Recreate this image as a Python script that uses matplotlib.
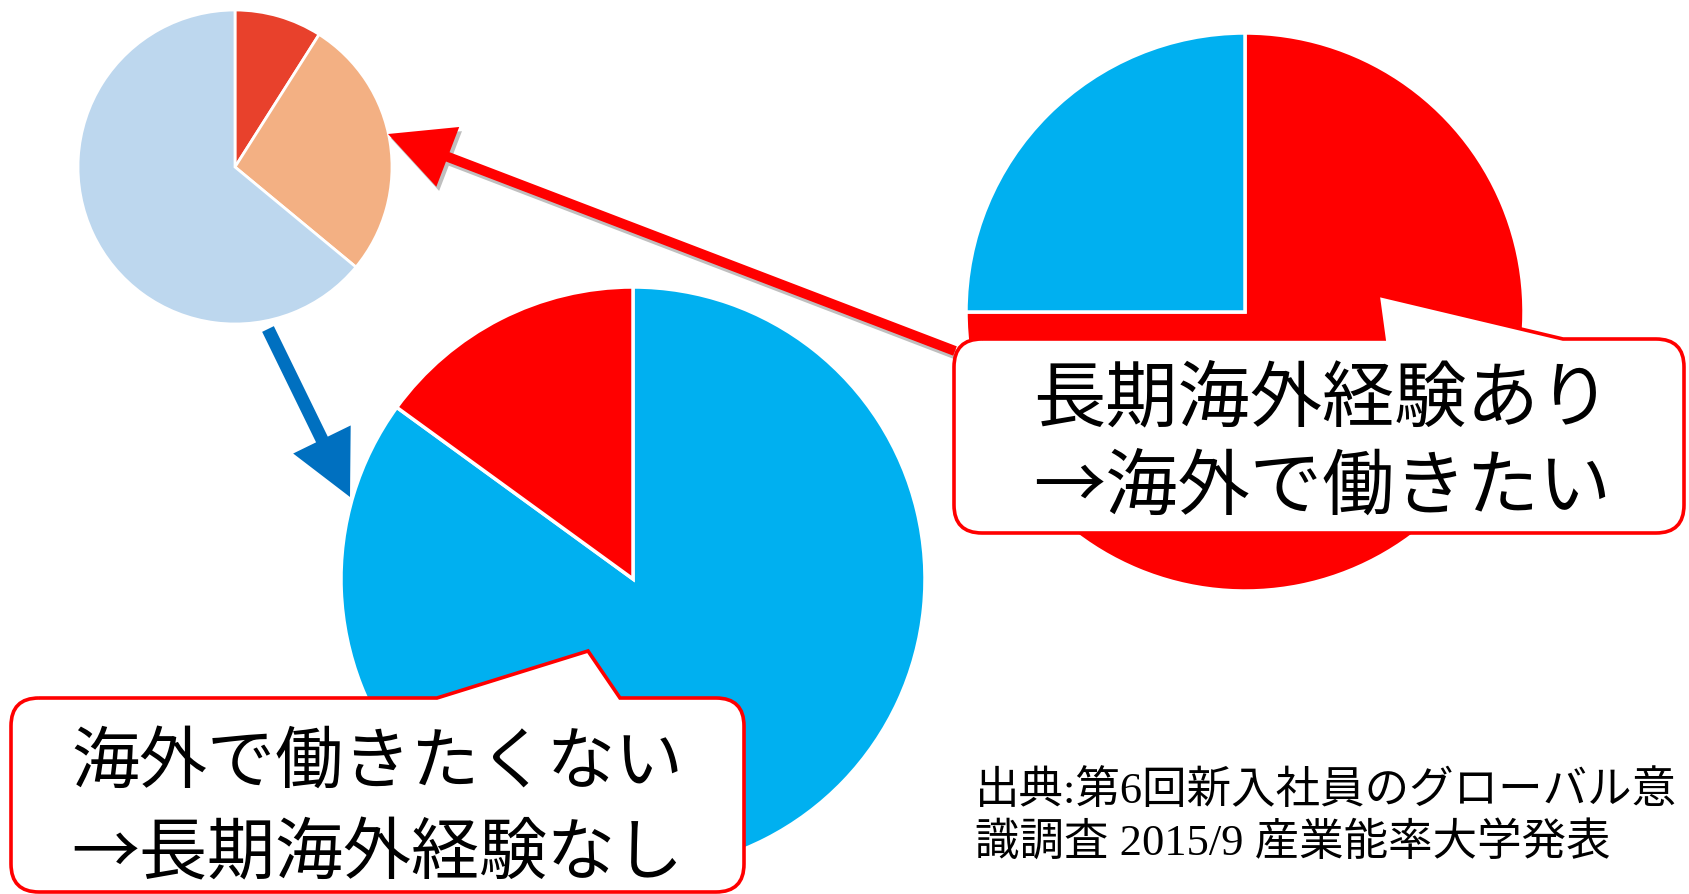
import matplotlib
matplotlib.use('Agg')
import matplotlib.pyplot as plt
from matplotlib.path import Path
from matplotlib.patches import PathPatch, FancyArrow
import matplotlib.patheffects as pe

W, H = 1690, 895

# ---- data ----
# overall (small pie, clockwise from top)
overall_values = [9, 27, 64]
overall_colors = ['#E8412C', '#F3B083', '#BDD7EE']
# 長期海外経験あり (right pie): 海外で働きたい / 働きたくない
exp_values = [75, 25]
exp_colors = ['#FF0000', '#00B0F0']
# 海外で働きたくない (middle pie): 経験なし / 経験あり
noexp_values = [85, 15]
noexp_colors = ['#00B0F0', '#FF0000']

box1_lines = ['長期海外経験あり', '→海外で働きたい']
box2_lines = ['海外で働きたくない', '→長期海外経験なし']
source_lines = ['出典:第6回新入社員のグローバル意', '識調査 2015/9 産業能率大学発表']

JP = ['Noto Sans CJK JP', 'DejaVu Sans']
SRC = ['Liberation Serif', 'Noto Sans CJK JP', 'DejaVu Sans']

fig = plt.figure(figsize=(16.9, 8.95), dpi=100)
ax = fig.add_axes([0, 0, 1, 1])


def Y(y):
    return H - y


wp = dict(edgecolor='white', linewidth=2.5)
ax.pie(overall_values, colors=overall_colors, startangle=90, counterclock=False,
       center=(235, Y(168)), radius=157, frame=True, wedgeprops=dict(edgecolor='white', linewidth=2))
ax.pie(noexp_values, colors=noexp_colors, startangle=90, counterclock=False,
       center=(633, Y(580)), radius=292, frame=True, wedgeprops=wp)
ax.pie(exp_values, colors=exp_colors, startangle=90, counterclock=False,
       center=(1245, Y(313)), radius=279, frame=True, wedgeprops=wp)

# arrows
shadow = [pe.SimplePatchShadow(offset=(2, -3), shadow_rgbFace='gray', alpha=0.5), pe.Normal()]
tail, tip = (955, 352), (388, 135)
ax.add_patch(FancyArrow(tail[0], Y(tail[1]), tip[0] - tail[0], Y(tip[1]) - Y(tail[1]),
                        width=10, head_width=64, head_length=64, length_includes_head=True,
                        color='#FF0000', lw=0, zorder=3, path_effects=shadow))
tail, tip = (268, 330), (350, 498)
ax.add_patch(FancyArrow(tail[0], Y(tail[1]), tip[0] - tail[0], Y(tip[1]) - Y(tail[1]),
                        width=13, head_width=64, head_length=64, length_includes_head=True,
                        color='#0070C0', lw=0, zorder=3))


def callout(x0, y0, x1, y1, r, t):
    (bl, tx, ty, br) = t
    P = [(x0 + r, y0), (bl, y0), (tx, ty), (br, y0), (x1 - r, y0),
         (x1, y0), (x1, y0 + r), (x1, y1 - r), (x1, y1), (x1 - r, y1),
         (x0 + r, y1), (x0, y1), (x0, y1 - r), (x0, y0 + r), (x0, y0), (x0 + r, y0)]
    C = [Path.MOVETO, Path.LINETO, Path.LINETO, Path.LINETO, Path.LINETO,
         Path.CURVE3, Path.CURVE3, Path.LINETO, Path.CURVE3, Path.CURVE3,
         Path.LINETO, Path.CURVE3, Path.CURVE3, Path.LINETO, Path.CURVE3, Path.CURVE3]
    P = [(x, Y(y)) for x, y in P]
    ax.add_patch(PathPatch(Path(P, C), facecolor='white', edgecolor='#FF0000',
                           lw=2.6, zorder=4, joinstyle='miter'))


callout(954, 340, 1684, 534, 28, (1384, 1378, 296, 1563))
callout(11, 699, 744, 893, 28, (437, 588, 652, 620))

for i, s in enumerate(box1_lines):
    ax.text(1322, Y([400, 488][i]), s, family=JP, fontsize=52, ha='center',
            va='center', zorder=5)
for i, s in enumerate(box2_lines):
    ax.text(377, Y([764, 855][i]), s, family=JP, fontsize=49, ha='center',
            va='center', zorder=5)
for i, s in enumerate(source_lines):
    ax.text(975, Y([791, 843][i]), s, family=SRC, fontsize=32, ha='left',
            va='center', zorder=5)

ax.set_xlim(0, W)
ax.set_ylim(0, H)
ax.set_aspect('equal')
ax.axis('off')
fig.savefig('out.png', dpi=100, facecolor='white')
